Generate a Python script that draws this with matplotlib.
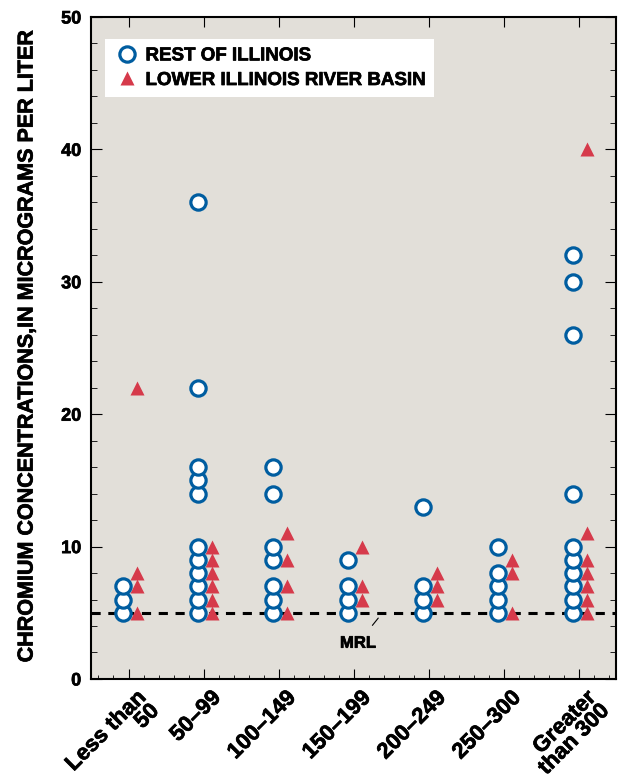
import numpy as np
import matplotlib
matplotlib.use("Agg")
import matplotlib.pyplot as plt
import matplotlib.patheffects as pe
import matplotlib.transforms as mtransforms
from matplotlib.ticker import MultipleLocator

plt.rcParams["font.family"] = ["Liberation Sans", "DejaVu Sans"]
plt.rcParams["font.weight"] = "bold"

# well-depth classes, in feet
categories = ["Less than\n50", "50\u201399", "100\u2013149", "150\u2013199",
              "200\u2013249", "250\u2013300", "Greater\nthan 300"]

# chromium concentrations (ug/L) per depth class
rest_of_illinois = [
    [5, 6, 7],
    [5, 6, 7, 8, 9, 10, 14, 15, 16, 22, 36],
    [5, 6, 7, 9, 10, 14, 16],
    [5, 6, 7, 9],
    [5, 6, 7, 13],
    [5, 6, 7, 8, 10],
    [5, 6, 7, 8, 9, 10, 14, 26, 30, 32],
]
lower_illinois = [
    [5, 7, 8, 22],
    [5, 6, 7, 8, 9, 10],
    [5, 7, 9, 11],
    [6, 7, 10],
    [6, 7, 8],
    [5, 8, 9],
    [5, 6, 7, 8, 9, 11, 40],
]
MRL = 5

BLUE = "#005da0"
RED = "#d63a4b"
# thicken the glyphs a little, the bold face is on the light side
heavy = [pe.withStroke(linewidth=0.5, foreground="black")]

fig = plt.figure(figsize=(6.22, 7.79), dpi=100)
ax = fig.add_axes([0.1463, 0.1284, 0.8441, 0.8498])
ax.set_facecolor("#e2dfd9")

for i, (circ, tri) in enumerate(zip(rest_of_illinois, lower_illinois)):
    ax.plot(np.full(len(circ), i - 0.08), circ, "o", ls="none", ms=11,
            mfc="white", mec=BLUE, mew=2.3, zorder=4,
            label="REST OF ILLINOIS" if i == 0 else None)
    ax.plot(np.full(len(tri), i + 0.11), tri, "^", ls="none", ms=10,
            mfc=RED, mec="none", zorder=3,
            label="LOWER ILLINOIS RIVER BASIN" if i == 0 else None)

ax.axhline(MRL, color="black", lw=2.2, ls=(0, (3, 2.5)), zorder=2)
ax.annotate("MRL", xy=(3.33, 4.6), xytext=(3.06, 2.7), fontsize=12,
            fontweight="bold", ha="center", va="center", path_effects=heavy,
            arrowprops=dict(arrowstyle="-", lw=0.8, color="black",
                            shrinkA=7, shrinkB=0))

ax.set_xlim(-0.5, 6.5)
ax.set_ylim(0, 50)
ax.set_xticks(range(len(categories)))
ax.set_xticklabels(categories, rotation=45, ha="right", va="top",
                   rotation_mode="anchor", multialignment="right",
                   fontsize=16, fontweight="bold", linespacing=0.85)
ax.xaxis.set_minor_locator(MultipleLocator(0.2))
ax.yaxis.set_major_locator(MultipleLocator(10))
ax.yaxis.set_minor_locator(MultipleLocator(2))
ax.tick_params(axis="y", which="both", direction="in", left=True, right=True,
               labelsize=13, pad=7)
ax.tick_params(axis="x", which="major", direction="in", top=True, bottom=True,
               length=7, pad=6)
ax.tick_params(axis="x", which="minor", direction="in", top=False,
               bottom=True, length=3)
ax.tick_params(axis="y", which="major", length=8)
ax.tick_params(axis="y", which="minor", length=4)
nudge = mtransforms.ScaledTranslation(5 / 72, 0, fig.dpi_scale_trans)
for lbl in ax.get_xticklabels():
    lbl.set_transform(lbl.get_transform() + nudge)
for lbl in ax.get_yticklabels() + ax.get_xticklabels():
    lbl.set_fontweight("bold")
    lbl.set_path_effects(heavy)
for s in ax.spines.values():
    s.set_linewidth(1.5)

ax.set_ylabel("CHROMIUM CONCENTRATIONS,IN MICROGRAMS PER LITER",
              fontsize=15.5, fontweight="bold", labelpad=17, path_effects=heavy)

leg = ax.legend(loc="upper left", bbox_to_anchor=(0.027, 0.967),
                borderaxespad=0, fancybox=False, framealpha=1,
                edgecolor="none", facecolor="white", handletextpad=0.3,
                borderpad=0.45, labelspacing=0.4, handlelength=1.4,
                prop={"weight": "bold", "size": 13.5})
leg.get_frame().set_linewidth(0)
for t in leg.get_texts():
    t.set_path_effects(heavy)

fig.savefig("out.png", dpi=100, facecolor="white")
